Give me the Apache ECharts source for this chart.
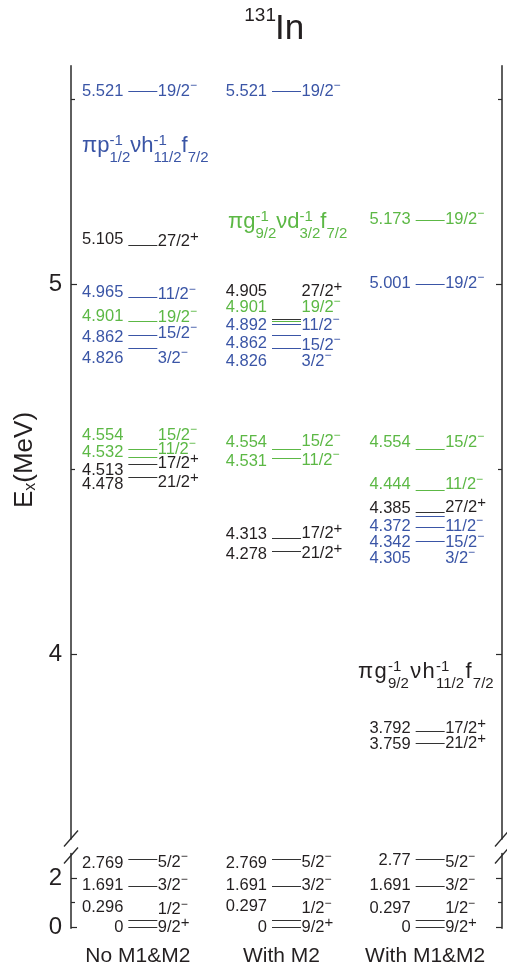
<!DOCTYPE html>
<html><head><meta charset="utf-8">
<script src="https://cdn.jsdelivr.net/npm/echarts@6.0.0/dist/echarts.min.js"></script>
<style>html,body{margin:0;padding:0;background:#fff}#chart{width:507px;height:973px}</style>
</head><body><div id="chart"></div>
<script>
// ---------------- data ----------------
const columns = ['No M1&M2', 'With M2', 'With M1&M2'];

const energiesNoM1M2 = [5.521, 5.105, 4.965, 4.901, 4.862, 4.826, 4.554, 4.532, 4.513, 4.478, 2.769, 1.691, 0.296, 0];
const spinsNoM1M2    = ['19/2-','27/2+','11/2-','19/2-','15/2-','3/2-','15/2-','11/2-','17/2+','21/2+','5/2-','3/2-','1/2-','9/2+'];
const configsNoM1M2  = ['p','n','p','g','p','p','g','g','n','n','n','n','n','n'];

const energiesWithM2 = [5.521, 4.905, 4.901, 4.892, 4.862, 4.826, 4.554, 4.531, 4.313, 4.278, 2.769, 1.691, 0.297, 0];
const spinsWithM2    = ['19/2-','27/2+','19/2-','11/2-','15/2-','3/2-','15/2-','11/2-','17/2+','21/2+','5/2-','3/2-','1/2-','9/2+'];
const configsWithM2  = ['p','n','g','p','p','p','g','g','n','n','n','n','n','n'];

const energiesWithM1M2 = [5.173, 5.001, 4.554, 4.444, 4.385, 4.372, 4.342, 4.305, 3.792, 3.759, 2.77, 1.691, 0.297, 0];
const spinsWithM1M2    = ['19/2-','19/2-','15/2-','11/2-','27/2+','11/2-','15/2-','3/2-','17/2+','21/2+','5/2-','3/2-','1/2-','9/2+'];
const configsWithM1M2  = ['g','p','g','g','n','p','p','p','n','n','n','n','n','n'];

const upperMajorTicks = [4, 5];
const upperMinorTicks = [4.5, 5.5];
const lowerMajorTicks = [0, 2];
const lowerMinorTicks = [1];

// ---------------- layout / style (not data) ----------------
// label vertical shifts in px [energy label, spin label] to avoid overlaps (as in the figure)
const labelShiftNoM1M2   = [[0,0],[-6,-4],[-4,-2],[-4,-3],[2,-2],[10,10],[-14,-14],[-5,-8],[6,-1],[7,5],[4,3],[0,0],[-12,-10],[0,0]];
const labelShiftWithM2   = [[0,0],[-28,-28],[-13,-13],[1,1],[8,10],[13,13],[-7,-8],[4,3],[-4,-5],[3,2],[4,3],[0,0],[-13,-11],[0,0]];
const labelShiftWithM1M2 = [[-1,-1],[0,0],[-7,-7],[-5,-5],[-3,-4],[10,10],[15,15],[17,17],[-3,-3],[1,0],[1,3],[0,0],[-11,-11],[0,0]];

const FONT = '"Liberation Sans", Arial, Helvetica, sans-serif';
const COLORS = { p: '#3a55a6', g: '#5cb845', n: '#231f20' };
const LINE_COLORS = { p: '#3a55a6', g: '#5cb845', n: '#333333' };
const AXIS_COLOR = '#2a2a2a';
const HALF_LINE = 14.5;

const columnsData = [
  { e: energiesNoM1M2, s: spinsNoM1M2, c: configsNoM1M2, d: labelShiftNoM1M2 },
  { e: energiesWithM2, s: spinsWithM2, c: configsWithM2, d: labelShiftWithM2 },
  { e: energiesWithM1M2, s: spinsWithM1M2, c: configsWithM1M2, d: labelShiftWithM1M2 }
];

const upperData = [], lowerData = [];
columnsData.forEach((col, ci) => {
  col.e.forEach((e, i) => {
    (e >= 3.5 ? upperData : lowerData).push([ci, e, i]);
  });
});

function spinRich(color) {
  return {
    n: { fontSize: 16.5, fontFamily: FONT, fill: color, lineHeight: 18 },
    m: { fontSize: 12, fontFamily: FONT, fill: color, padding: [0, 0, 11, 0], lineHeight: 12 },
    q: { fontSize: 15, fontFamily: FONT, fill: color, padding: [0, 0, 9, 0], lineHeight: 14 }
  };
}
function spinText(s) {
  const sign = s.slice(-1), body = s.slice(0, -1);
  return sign === '+' ? `{n|${body}}{q|+}` : `{n|${body}}{m|\u2212}`;
}

function renderLevel(params, api) {
  const ci = api.value(0), e = api.value(1), i = api.value(2);
  const col = columnsData[ci];
  const cfg = col.c[i];
  const color = COLORS[cfg];
  const p = api.coord([ci, e]);
  const y = Math.round(p[1]) + 0.5;
  const x1 = p[0] - HALF_LINE, x2 = p[0] + HALF_LINE;
  const sh = col.d[i];
  return {
    type: 'group',
    children: [
      { type: 'line', shape: { x1: x1, y1: y, x2: x2, y2: y },
        style: { stroke: LINE_COLORS[cfg], lineWidth: 1 } },
      { type: 'text', x: x1 - 5, y: p[1] + sh[0],
        style: { text: String(e), fill: color, fontSize: 16.5, fontFamily: FONT, align: 'right', verticalAlign: 'middle' } },
      { type: 'text', x: x2 + 0.5, y: p[1] + sh[1],
        style: { text: spinText(col.s[i]), rich: spinRich(color), fill: color, fontSize: 16.5, fontFamily: FONT, align: 'left', verticalAlign: 'middle' } }
    ]
  };
}

// ---------------- formulas (configuration annotations) ----------------
const measureCtx = document.createElement('canvas').getContext('2d');
function measure(t, size) { measureCtx.font = size + 'px "Liberation Sans"'; return measureCtx.measureText(t).width; }
function formula(pieces, x0, baseline, color, gap) {
  const MAIN = 22, SUB = 15;
  const els = [];
  let x = x0;
  pieces.forEach(p => {
    if (typeof p === 'string') {
      els.push({ type: 'text', x: x, y: baseline - 8, style: { text: p, fill: color, fontSize: MAIN, fontFamily: FONT, verticalAlign: 'middle' } });
      x += measure(p, MAIN) + gap;
    } else {
      let w = 0;
      if (p[0]) { els.push({ type: 'text', x: x, y: baseline - 13, style: { text: p[0], fill: color, fontSize: SUB, fontFamily: FONT, verticalAlign: 'middle' } }); w = Math.max(w, measure(p[0], SUB)); }
      if (p[1]) { els.push({ type: 'text', x: x, y: baseline + 4, style: { text: p[1], fill: color, fontSize: SUB, fontFamily: FONT, verticalAlign: 'middle' } }); w = Math.max(w, measure(p[1], SUB)); }
      x += w + gap;
    }
  });
  return els;
}

const graphics = [];
// title
graphics.push({ type: 'text', x: 275, y: 29, style: { text: 'In', fill: COLORS.n, fontSize: 35, fontFamily: FONT, align: 'left', verticalAlign: 'middle' } });
graphics.push({ type: 'text', x: 276, y: 16, style: { text: '131', fill: COLORS.n, fontSize: 19, fontFamily: FONT, align: 'right', verticalAlign: 'middle' } });
// y axis name
graphics.push({ type: 'text', x: 25, y: 460, rotation: Math.PI / 2,
  style: { text: '{a|E}{b|x}{a|(MeV)}', align: 'center', verticalAlign: 'middle', fill: COLORS.n,
    rich: { a: { fontSize: 26, fontFamily: FONT, fill: COLORS.n }, b: { fontSize: 16, fontFamily: FONT, fill: COLORS.n, padding: [12, 0, 0, 0] } } } });
// formulas
graphics.push(...formula(['\u03c0', 'p', ['-1', '1/2'], '\u03bd', 'h', ['-1', '11/2'], 'f', [null, '7/2']], 82, 154, COLORS.p, 0));
graphics.push(...formula(['\u03c0', 'g', ['-1', '9/2'], '\u03bd', 'd', ['-1', '3/2'], 'f', [null, '7/2']], 228, 230, COLORS.g, 0));
graphics.push(...formula(['\u03c0', 'g', ['-1', '9/2'], '\u03bd', 'h', ['-1', '11/2'], 'f', [null, '7/2']], 358, 680, COLORS.n, 1.3));
// axis break marks
[71, 502].forEach(ax => {
  [838.5, 855.5].forEach(cy => {
    graphics.push({ type: 'line', shape: { x1: ax - 7, y1: cy + 8, x2: ax + 7, y2: cy - 8 }, style: { stroke: AXIS_COLOR, lineWidth: 1.3 } });
  });
});

// ---------------- axes ----------------
function yAx(grid, pos, min, max, ticks, tickLen, labels, showLine) {
  return {
    type: 'value', gridIndex: grid, position: pos, min: min, max: max,
    axisLine: { show: showLine, onZero: false, lineStyle: { color: AXIS_COLOR, width: 1.5 } },
    axisTick: { show: true, inside: true, length: tickLen, customValues: ticks, lineStyle: { color: AXIS_COLOR, width: 1.2 } },
    axisLabel: labels ? { show: true, customValues: labels, margin: 9, color: COLORS.n, fontSize: 24, fontFamily: FONT } : { show: false },
    splitLine: { show: false }
  };
}

const option = {
  animation: false,
  backgroundColor: '#fff',
  grid: [
    { left: 71, right: 5, top: 65.7, height: 773.3 },
    { left: 71, right: 5, top: 853.5, height: 74.7 }
  ],
  xAxis: [
    { type: 'value', gridIndex: 0, min: -0.5, max: 2.5, show: false },
    { type: 'value', gridIndex: 1, min: -0.5, max: 2.5,
      axisLine: { show: false, onZero: false }, axisTick: { show: false }, splitLine: { show: false },
      axisLabel: { show: true, customValues: [0, 1, 2], formatter: v => columns[Math.round(v)],
        margin: 18, padding: [0, 10, 0, 0], color: COLORS.n, fontSize: 21, fontFamily: FONT } }
  ],
  yAxis: [
    yAx(0, 'left', 3.5, 5.59, upperMajorTicks, 6, upperMajorTicks, true),
    yAx(0, 'left', 3.5, 5.59, upperMinorTicks, 4, null, false),
    yAx(0, 'right', 3.5, 5.59, upperMajorTicks, 6, null, true),
    yAx(0, 'right', 3.5, 5.59, upperMinorTicks, 4, null, false),
    yAx(1, 'left', -0.05, 3.0, lowerMajorTicks, 6, lowerMajorTicks, true),
    yAx(1, 'left', -0.05, 3.0, lowerMinorTicks, 4, null, false),
    yAx(1, 'right', -0.05, 3.0, lowerMajorTicks, 6, null, true),
    yAx(1, 'right', -0.05, 3.0, lowerMinorTicks, 4, null, false)
  ],
  series: [
    { type: 'custom', xAxisIndex: 0, yAxisIndex: 0, data: upperData, renderItem: renderLevel, clip: false, silent: true },
    { type: 'custom', xAxisIndex: 1, yAxisIndex: 4, data: lowerData, renderItem: renderLevel, clip: false, silent: true }
  ],
  graphic: graphics
};

const chart = echarts.init(document.getElementById('chart'), null, { renderer: 'canvas' });
chart.setOption(option);
</script>
</body></html>
